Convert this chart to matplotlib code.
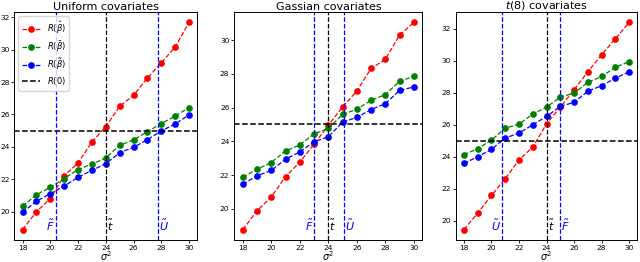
import matplotlib
matplotlib.use("Agg")
import matplotlib.pyplot as plt

sigma2 = [18, 19, 20, 21, 22, 23, 24, 25, 26, 27, 28, 29, 30]

# uniform covariates
unif_hat = [18.89, 20.0, 20.8, 22.22, 23.0, 24.3, 25.25, 26.5, 27.18, 28.25, 29.18, 30.16, 31.68]
unif_bar = [20.33, 21.05, 21.5, 22.04, 22.6, 22.94, 23.31, 24.1, 24.42, 24.94, 25.43, 25.9, 26.42]
unif_tilde = [19.96, 20.64, 21.11, 21.58, 22.12, 22.55, 22.96, 23.64, 23.97, 24.44, 24.98, 25.41, 25.97]
unif_lines = {"F": 20.38, "t": 24.0, "U": 27.75}

# gaussian covariates
gaus_hat = [18.76, 19.88, 20.69, 21.91, 22.76, 23.83, 24.94, 26.04, 26.98, 28.32, 28.86, 30.3, 31.05]
gaus_bar = [21.87, 22.34, 22.74, 23.43, 23.78, 24.44, 24.76, 25.6, 25.9, 26.43, 26.77, 27.56, 27.85]
gaus_tilde = [21.46, 21.95, 22.27, 22.94, 23.37, 23.97, 24.27, 25.13, 25.42, 25.88, 26.23, 27.02, 27.22]
gaus_lines = {"F": 23.02, "t": 24.0, "U": 25.12}

# t(8) covariates
t8_hat = [19.44, 20.48, 21.58, 22.63, 23.81, 24.6, 26.06, 27.1, 28.19, 29.31, 30.38, 31.38, 32.4]
t8_bar = [24.13, 24.5, 25.04, 25.79, 26.04, 26.67, 27.1, 27.73, 27.98, 28.65, 29.02, 29.6, 29.94]
t8_tilde = [23.58, 24.0, 24.46, 25.17, 25.48, 26.0, 26.52, 27.15, 27.4, 28.1, 28.44, 28.92, 29.31]
t8_lines = {"U": 20.77, "t": 24.0, "F": 25.0}

R0 = 25.0

titles = ["Uniform covariates", "Gassian covariates", r"$t(8)$ covariates"]
labels = [r"$R(\hat{\beta})$", r"$R(\bar{\beta})$", r"$R(\tilde{\beta})$", r"$R(0)$"]
line_names = {"F": r"$\tilde{F}$", "t": r"$\tilde{t}$", "U": r"$\tilde{U}$"}

panels = [
    (unif_hat, unif_bar, unif_tilde, unif_lines),
    (gaus_hat, gaus_bar, gaus_tilde, gaus_lines),
    (t8_hat, t8_bar, t8_tilde, t8_lines),
]

fig = plt.figure(figsize=(6.4, 2.62), dpi=100)
rects = [
    [0.0223, 0.084, 0.286, 0.870],
    [0.366, 0.084, 0.294, 0.870],
    [0.712, 0.084, 0.284, 0.870],
]

for i, (hat, bar, tilde, vlines) in enumerate(panels):
    ax = fig.add_axes(rects[i])
    kw = dict(ls="--", lw=0.9, marker="o", ms=3.8)
    ax.plot(sigma2, hat, color="r", label=labels[0], **kw)
    ax.plot(sigma2, bar, color="g", label=labels[1], **kw)
    ax.plot(sigma2, tilde, color="b", label=labels[2], **kw)
    ax.axhline(R0, color="k", ls="--", lw=1.1, label=labels[3])

    ymin, ymax = ax.get_ylim()
    for k, xv in vlines.items():
        col = "k" if k == "t" else "b"
        ax.axvline(xv, color=col, ls="--", lw=0.9)
        # labels sit left of the line when another line is just to the right
        right_side = True
        if i == 0 and k == "F":
            right_side = False
        if i == 1 and k == "F":
            right_side = False
        if i == 2 and k == "U":
            right_side = False
        if right_side:
            ax.text(xv + 0.08, ymin + 0.03 * (ymax - ymin), line_names[k],
                    color=col, fontsize=8, ha="left", va="bottom")
        else:
            ax.text(xv - 0.08, ymin + 0.03 * (ymax - ymin), line_names[k],
                    color=col, fontsize=8, ha="right", va="bottom")
    ax.set_ylim(ymin, ymax)

    ax.set_xticks([18, 20, 22, 24, 26, 28, 30])
    ax.tick_params(labelsize=5.3, length=2, width=0.6, pad=1.5)
    ax.set_title(titles[i], fontsize=8, pad=1)
    ax.set_xlabel(r"$\sigma^2$", fontsize=7, labelpad=-1)
    for s in ax.spines.values():
        s.set_linewidth(0.7)

    if i == 0:
        ax.legend(loc="upper left", fontsize=6, handlelength=2.2,
                  borderpad=0.4, labelspacing=0.35, handletextpad=0.8)

fig.savefig("out.png", dpi=100)
